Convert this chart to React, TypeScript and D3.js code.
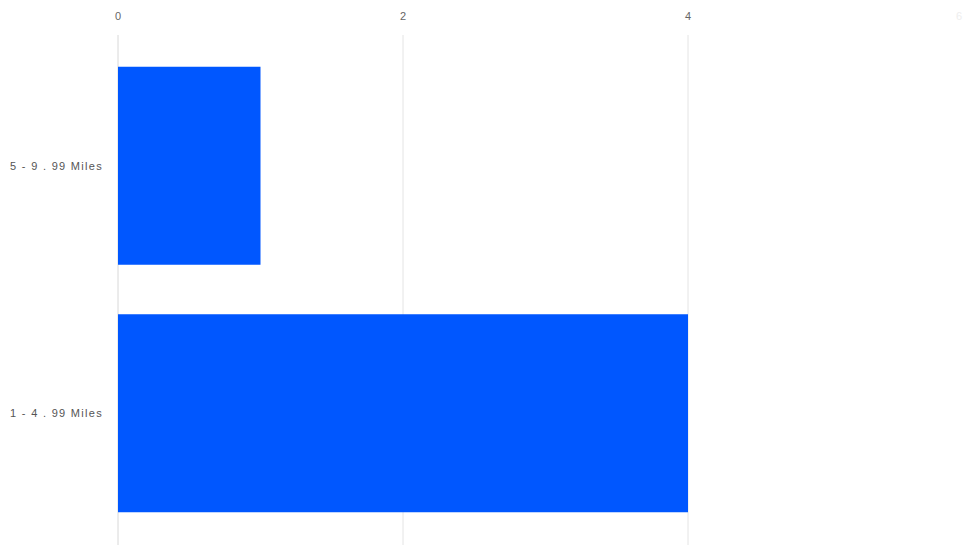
import React from "react";
import * as d3 from "d3";

const categories = ["5 - 9 . 99 Miles", "1 - 4 . 99 Miles"];
const values = [1, 4];
const tickValues = [0, 2, 4, 6];

const W = 964;
const H = 545;

export default function App() {
  const x = d3.scaleLinear().domain([0, 6]).range([118, 973]);
  const y = d3.scaleBand<string>().domain(categories).range([42, 537]).paddingInner(0.2).paddingOuter(0.1);
  const font = "'Liberation Sans', Arial, sans-serif";
  return (
    <svg width={W} height={H} style={{ position: "absolute", left: 0, top: 0, background: "#fff" }} fontFamily={font}>
      {tickValues.map((t) => (
        <g key={t}>
          {t < 6 && (
            <line x1={x(t)} x2={x(t)} y1={35} y2={H} stroke={t === 0 ? "#d8d8d8" : "#e4e4e4"} strokeWidth={1} />
          )}
          <text
            x={t < 6 ? x(t) : 959}
            y={20}
            textAnchor="middle"
            fontSize={11}
            fill={t < 6 ? "#666" : "#eee"}
          >
            {t}
          </text>
        </g>
      ))}
      {categories.map((c, i) => (
        <g key={c}>
          <rect x={x(0)} y={y(c)!} width={x(values[i]) - x(0)} height={y.bandwidth()} fill="#0057FF" />
          <text
            x={103}
            y={y(c)! + y.bandwidth() / 2 + 4}
            textAnchor="end"
            fontSize={11}
            letterSpacing={1.3}
            fill="#555"
          >
            {c}
          </text>
        </g>
      ))}
    </svg>
  );
}
